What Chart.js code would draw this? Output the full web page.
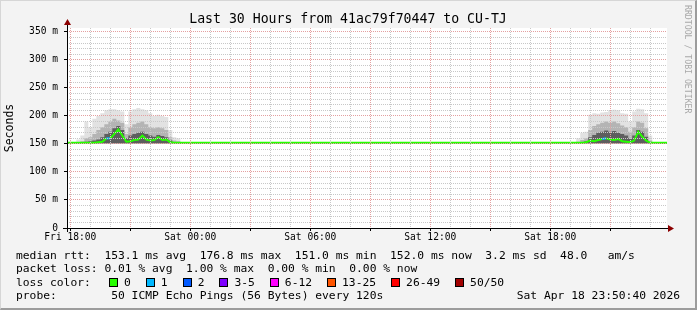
<!DOCTYPE html>
<html>
<head>
<meta charset="utf-8">
<script src="https://cdn.jsdelivr.net/npm/chart.js@4.4.1/dist/chart.umd.min.js"></script>
<style>
  html, body { margin: 0; padding: 0; background: #f3f3f3; }
  #wrap { position: relative; width: 697px; height: 310px; overflow: hidden; background: #f3f3f3;
          font-family: "DejaVu Sans Mono", monospace; color: #000; }
  #c { position: absolute; left: 0; top: 0; }
  #frame { position: absolute; left: 0; top: 0; width: 697px; height: 310px; box-sizing: border-box;
           border-top: 1px solid #d6d6d6; border-left: 1px solid #d6d6d6;
           border-right: 2px solid #9c9c9c; border-bottom: 2px solid #9c9c9c; pointer-events: none; }
  #title { position: absolute; left: 0; width: 696px; top: 11px; text-align: center;
           font-size: 13.2px; line-height: 16px; white-space: pre; }
  .ln { position: absolute; left: 16px; font-size: 11.3px; line-height: 13px; white-space: pre; }
  #lossLegend { position: absolute; left: 109px; top: 275.5px; display: flex; align-items: center;
                font-size: 11.3px; line-height: 13px; white-space: pre; }
  #lossLegend .box { display: inline-block; width: 7px; height: 7px; border: 1px solid #000; margin-right: 6px; }
  #lossLegend .lab { margin-right: 15px; }
  #credit { position: absolute; left: 683px; top: 5px; writing-mode: vertical-rl; font-size: 8.2px; color: #a8a8a8; }
</style>
</head>
<body>
<div id="wrap">
  <canvas id="c" width="697" height="310"></canvas>
  <div id="title">Last 30 Hours from 41ac79f70447 to CU-TJ</div>
  <div id="credit">RRDTOOL / TOBI OETIKER</div>
  <div class="ln" style="top:248.5px">median rtt:  153.1 ms avg  176.8 ms max  151.0 ms min  152.0 ms now  3.2 ms sd  48.0   am/s</div>
  <div class="ln" style="top:262px">packet loss: 0.01 % avg  1.00 % max  0.00 % min  0.00 % now</div>
  <div class="ln" style="top:275.5px">loss color:</div>
  <div id="lossLegend"></div>
  <div class="ln" style="top:289px">probe:        50 ICMP Echo Pings (56 Bytes) every 120s</div>
  <div class="ln" style="top:289px;left:auto;right:17px">Sat Apr 18 23:50:40 2026</div>
  <div id="frame"></div>
</div>
<script>
// hours since Fri 18:00 (graph runs Fri 17:50 .. Sat 23:50)
const hours = [
  -0.1667, 0.2,
  0.4, 0.6, 0.8, 1.0, 1.2, 1.4, 1.6, 1.8, 2.0, 2.2, 2.4, 2.6, 2.8,
  3.0, 3.2, 3.4, 3.6, 3.8, 4.0, 4.2, 4.4, 4.6, 4.8, 5.0, 5.2, 5.4,
  5.6, 15, 25.2,
  25.4, 25.6, 25.8, 26.0, 26.2, 26.4, 26.6, 26.8, 27.0, 27.2,
  27.4, 27.6, 27.8, 28.0, 28.2, 28.4, 28.6, 28.8, 29.0,
  29.2, 29.84
];

// rtt values in ms
const rttMin = [
  151, 151,
  151, 151, 151, 151, 151, 151, 151, 151, 151, 151, 151, 151, 151,
  151, 151, 151, 151, 151, 151, 151, 151, 151, 151, 151, 151, 151,
  151, 151, 151,
  151, 151, 151, 151, 151, 151, 151, 151, 151, 151,
  151, 151, 151, 151, 151, 151, 151, 151, 151,
  151, 151
];
const rttMedian = [
  152, 152,
  152, 152, 152, 152, 152, 153, 154, 160, 160, 168, 176, 165, 154,
  155, 157, 158, 165, 158, 156, 157, 162, 157, 158, 153, 152, 152,
  152, 152, 152,
  152, 152, 153, 156, 155, 157, 159, 160, 158, 157,
  159, 155, 154, 153, 156, 172, 163, 156, 152,
  152, 152
];
const rttP75 = [
  152.3, 152.3,
  152, 153, 154, 155, 156, 158, 162, 168, 172, 178, 182, 175, 160,
  165, 168, 170, 172, 168, 165, 163, 166, 164, 162, 156, 153, 153,
  152.3, 152.3, 152.3,
  152, 153, 155, 162, 166, 170, 172, 174, 172, 173,
  170, 168, 165, 160, 165, 175, 172, 163, 153,
  152.3, 152.3
];
const rttP90 = [
  152.6, 152.6,
  153, 155, 160, 162, 168, 175, 180, 185, 190, 195, 192, 188, 168,
  180, 185, 188, 190, 185, 180, 178, 180, 178, 175, 162, 156, 155,
  152.6, 152.6, 152.6,
  154, 157, 160, 175, 182, 185, 188, 190, 188, 190,
  187, 183, 180, 172, 180, 190, 188, 178, 156,
  152.6, 152.6
];
const rttMax = [
  153, 153,
  158, 165, 190, 180, 195, 200, 205, 210, 212, 212, 210, 208, 185,
  208, 212, 214, 212, 210, 205, 200, 202, 200, 198, 175, 162, 160,
  153, 153, 153,
  160, 170, 172, 202, 205, 204, 206, 207, 210, 211,
  210, 205, 204, 190, 208, 213, 212, 205, 165,
  153, 153
];
// index into lossNames / lossColors
const lossClass = [
  0, 0,
  0, 0, 0, 0, 0, 0, 0, 0, 1, 0, 0, 0, 0,
  0, 0, 0, 0, 0, 0, 0, 0, 0, 0, 0, 0, 0,
  0, 0, 0,
  0, 0, 0, 0, 0, 0, 0, 1, 0, 0,
  0, 0, 0, 0, 0, 0, 0, 0, 0,
  0, 0
];

const xLabels = ["Fri 18:00", "Sat 00:00", "Sat 06:00", "Sat 12:00", "Sat 18:00"];
const yLabels = ["0", "50 m", "100 m", "150 m", "200 m", "250 m", "300 m", "350 m"];
const lossNames = ["0", "1", "2", "3-5", "6-12", "13-25", "26-49", "50/50"];
const lossColors = ["#26ff00", "#00b8ff", "#0059ff", "#7e00ff", "#ff00fe", "#ff5500", "#ff0000", "#a10000"];

const MONO = "'DejaVu Sans Mono', monospace";

function pts(arr) {
  return hours.map((h, i) => ({ x: h, y: arr[i] }));
}

function band(arr, color, ord) {
  return {
    data: pts(arr),
    fill: { target: 0 },
    backgroundColor: color,
    borderColor: "transparent",
    borderWidth: 0,
    pointRadius: 0,
    stepped: "middle",
    order: ord,
  };
}

const legendEl = document.getElementById("lossLegend");
lossNames.forEach((name, i) => {
  const b = document.createElement("span");
  b.className = "box";
  b.style.background = lossColors[i];
  const l = document.createElement("span");
  l.className = "lab";
  l.textContent = name;
  legendEl.appendChild(b);
  legendEl.appendChild(l);
});

const plotFrame = {
  id: "plotFrame",
  beforeDraw(chart) {
    const { ctx, chartArea: a } = chart;
    ctx.save();
    ctx.fillStyle = "#ffffff";
    ctx.fillRect(a.left, a.top, a.right - a.left, a.bottom - a.top);
    ctx.restore();
  },
  afterDraw(chart) {
    const { ctx, chartArea: a } = chart;
    const bx = Math.round(a.left) + 0.5;
    const by = Math.round(a.bottom) + 0.5;
    ctx.save();
    ctx.strokeStyle = "#000";
    ctx.lineWidth = 1;
    ctx.beginPath();
    ctx.moveTo(a.left - 4, by);
    ctx.lineTo(a.right + 2, by);
    ctx.moveTo(bx, a.bottom + 4);
    ctx.lineTo(bx, a.top - 4);
    ctx.stroke();
    ctx.fillStyle = "#8b0000";
    ctx.beginPath();
    ctx.moveTo(a.right + 7, by);
    ctx.lineTo(a.right + 1, by - 3.5);
    ctx.lineTo(a.right + 1, by + 3.5);
    ctx.closePath();
    ctx.fill();
    ctx.beginPath();
    ctx.moveTo(bx, a.top - 9);
    ctx.lineTo(bx - 3.5, a.top - 3);
    ctx.lineTo(bx + 3.5, a.top - 3);
    ctx.closePath();
    ctx.fill();
    ctx.restore();
  },
};

new Chart(document.getElementById("c"), {
  type: "line",
  data: {
    datasets: [
      { data: pts(rttMin), borderColor: "transparent", borderWidth: 0, pointRadius: 0, stepped: "middle", fill: false, order: 4 },
      band(rttMax, "#e2e2e2", 3),
      band(rttP90, "#b4b4b4", 2),
      band(rttP75, "#5e5e5e", 1),
      {
        data: pts(rttMedian),
        borderColor: lossColors[0],
        borderWidth: 2,
        pointRadius: 0,
        fill: false,
        order: 0,
        segment: { borderColor: (c) => lossColors[lossClass[c.p1DataIndex]] },
      },
    ],
  },
  options: {
    responsive: false,
    animation: false,
    devicePixelRatio: 1,
    layout: { padding: { left: 0, right: 30, top: 28, bottom: 60 } },
    plugins: {
      legend: { display: false },
      tooltip: { enabled: false },
      title: { display: false },
    },
    scales: {
      x: {
        type: "linear",
        min: -1 / 6,
        max: 29.84,
        afterFit: (s) => { s.height = 22; },
        border: { display: false, dash: [1, 1] },
        grid: {
          z: 1,
          tickLength: 3,
          color: (c) => (c.tick && c.tick.value % 3 === 0 ? "#e4a0a0" : "#c8c8c8"),
          tickColor: (c) => (c.tick && c.tick.value % 3 === 0 ? "#000" : "rgba(0,0,0,0)"),
        },
        ticks: {
          stepSize: 1,
          includeBounds: false,
          autoSkip: false,
          maxRotation: 0,
          padding: 1,
          color: "#000",
          font: { family: MONO, size: 9.6 },
          callback: (v) => (v % 6 === 0 ? xLabels[v / 6] : ""),
        },
      },
      y: {
        min: 0,
        max: 357,
        afterFit: (s) => { s.width = 67; },
        border: { display: false, dash: [1, 1] },
        grid: {
          z: 1,
          tickLength: 3,
          color: (c) => {
            if (!c.tick || c.tick.value === 0) return "rgba(0,0,0,0)";
            return c.tick.value % 50 === 0 ? "#e4a0a0" : "#c8c8c8";
          },
          tickColor: (c) => (c.tick && c.tick.value % 50 === 0 ? "#000" : "rgba(0,0,0,0)"),
        },
        ticks: {
          stepSize: 10,
          includeBounds: false,
          autoSkip: false,
          padding: 6,
          color: "#000",
          font: { family: MONO, size: 9.6 },
          callback: (v) => (v % 50 === 0 ? yLabels[v / 50] : ""),
        },
        title: {
          display: true,
          text: "Seconds",
          color: "#000",
          font: { family: MONO, size: 11.5 },
          padding: { top: 3, bottom: 0 },
        },
      },
    },
  },
  plugins: [plotFrame],
});
</script>
</body>
</html>
